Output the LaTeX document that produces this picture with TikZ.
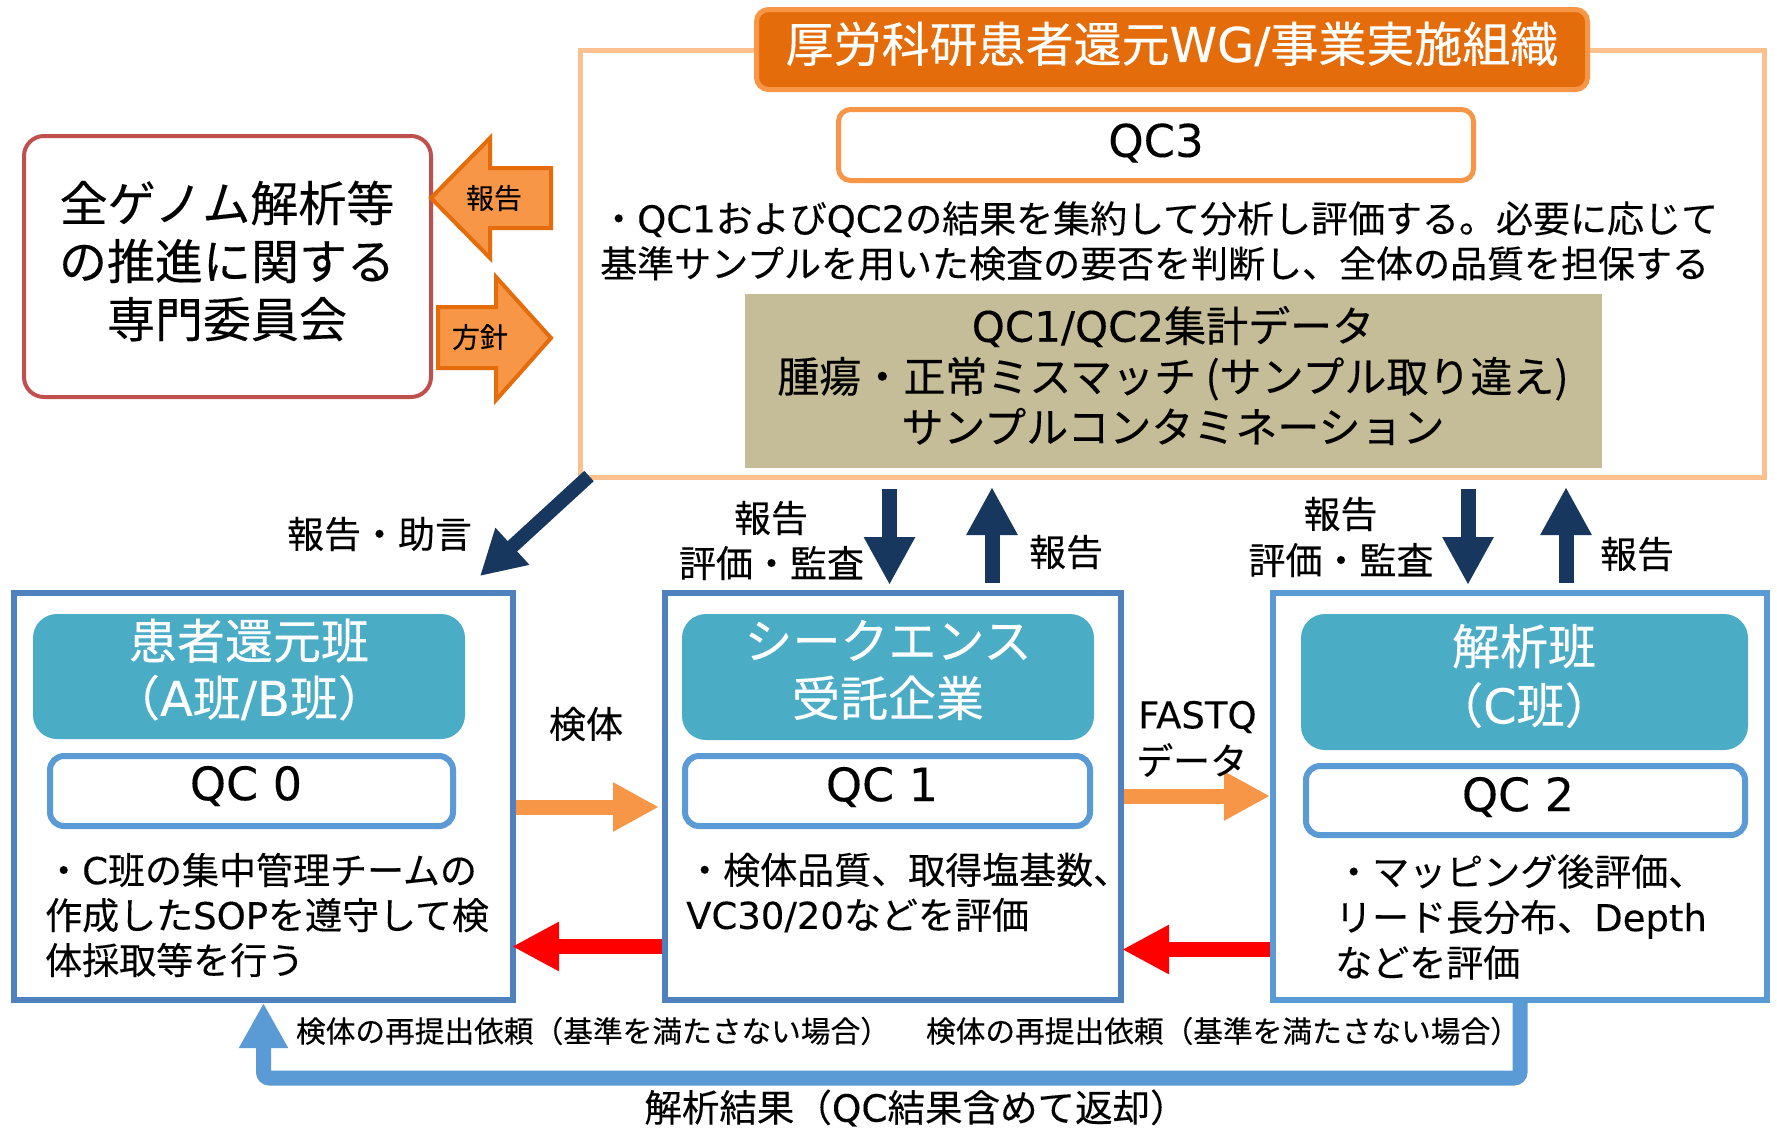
\documentclass[tikz,border=0pt]{standalone}
\usepackage{fontspec}
\setmainfont{Noto Sans CJK JP}[FakeBold=0.25]
\newfontfamily\lat{DejaVu Sans}[FakeBold=0.2]
\usetikzlibrary{arrows.meta}
\newcommand\myfs[2]{\fontsize{#1}{#2}\selectfont}
\definecolor{commred}{HTML}{C0504D}
\definecolor{peach}{HTML}{FAC090}
\definecolor{dorange}{HTML}{E46C0A}
\definecolor{morange}{HTML}{F79646}
\definecolor{tanc}{HTML}{C4BD97}
\definecolor{gblue}{HTML}{4F81BD}
\definecolor{lblue}{HTML}{5B9BD5}
\definecolor{tealbox}{HTML}{4BACC6}
\definecolor{navyc}{HTML}{17375E}
\definecolor{redc}{HTML}{FF0000}
\begin{document}
\begin{tikzpicture}[x=1pt,y=-1pt,
  commbox/.style={draw=commred, line width=4pt, rounded corners=20pt, fill=white},
  framebox/.style={draw=peach, line width=5pt},
  titlebox/.style={draw=morange, fill=dorange, line width=5pt, rounded corners=12pt},
  qcthree/.style={draw=morange, fill=white, line width=5pt, rounded corners=12pt},
  tanbox/.style={fill=tanc},
  group/.style={draw=gblue, line width=6pt, fill=white},
  groupl/.style={draw=lblue, line width=6pt, fill=white},
  teambox/.style={fill=tealbox, rounded corners=24pt},
  qcbox/.style={draw=lblue, fill=white, line width=6pt, rounded corners=14pt},
  txt/.style={inner sep=0pt, text=black},
  wtxt/.style={inner sep=0pt, text=white},
  blockarrow/.style={fill=morange, draw=dorange, line width=4pt, line join=miter},
  navyarrow/.style={draw=navyc, line width=15pt, -{Triangle[length=48pt,width=48pt]}},
  navydiag/.style={draw=navyc, line width=14pt, -{Triangle[length=44pt,width=47pt]}},
  orangearrow/.style={draw=morange, line width=15pt, -{Triangle[length=46pt,width=46pt]}},
  redarrow/.style={draw=redc, line width=15pt, -{Triangle[length=47pt,width=46pt]}},
  bluearrow/.style={draw=lblue, line width=15pt, rounded corners=6pt, -{Triangle[length=45pt,width=46pt]}}
]
\useasboundingbox (0,0) rectangle (1777,1128);
\fill[white] (0,0) rectangle (1777,1128);

% upper frame (WG)
\node[framebox, minimum width=1184pt, minimum height=427pt] (frame) at (1172.5,264) {};
\node[titlebox, minimum width=831pt, minimum height=80pt] (title) at (1172,49.5) {};
\node[wtxt, font=\myfs{48}{56}] (titletxt) at (1172,44) {厚労科研患者還元{\lat WG/}事業実施組織};
\node[qcthree, minimum width=635pt, minimum height=71pt] (qc3) at (1156,145) {};
\node[txt, font=\myfs{45}{50}] (qc3t) at (1156,143) {\lat QC3};
\node[txt, font=\myfs{37}{45}, align=left, anchor=west] (qc3txt) at (600,241)
  {・{\lat QC1}および{\lat QC2}の結果を集約して分析し評価する。必要に応じて\\基準サンプルを用いた検査の要否を判断し、全体の品質を担保する};
\node[tanbox, minimum width=857pt, minimum height=174pt] (tan) at (1173.5,381) {};
\node[txt, font=\myfs{42}{50.5}, align=center] (tantxt) at (1173,375.5)
  {{\lat QC1/QC2}集計データ\\腫瘍・正常ミスマッチ (サンプル取り違え)\\サンプルコンタミネーション};

% committee
\node[commbox, minimum width=407pt, minimum height=261pt] (comm) at (227.5,266.5) {};
\node[txt, font=\myfs{48}{58}, align=center] (commtxt) at (227,261) {全ゲノム解析等\\の推進に関する\\専門委員会};

% block arrows between committee and frame
\draw[blockarrow] (431,198) -- (490,138) -- (490,168) -- (551,168) -- (551,228) -- (490,228) -- (490,258) -- cycle;
\draw[blockarrow] (438,307) -- (496,307) -- (496,277) -- (551,338) -- (496,400) -- (496,368) -- (438,368) -- cycle;
\node[txt, font=\myfs{28}{34}] (rep0) at (494,198) {報告};
\node[txt, font=\myfs{28}{34}] (pol) at (480,337) {方針};

% groups
\node[group, minimum width=499pt, minimum height=407pt] (g0) at (263.5,796.5) {};
\node[group, minimum width=456pt, minimum height=407pt] (g1) at (893,796.5) {};
\node[groupl, minimum width=494pt, minimum height=407pt] (g2) at (1520,796.5) {};

\node[teambox, minimum width=432pt, minimum height=125pt] (t0) at (249,676.5) {};
\node[teambox, minimum width=412pt, minimum height=126pt] (t1) at (888,677) {};
\node[teambox, minimum width=447pt, minimum height=136pt] (t2) at (1524.5,682) {};
\node[wtxt, font=\myfs{48}{57}, align=center] (t0t) at (249,669.5) {患者還元班\\（{\lat A}班{\lat /B}班）};
\node[wtxt, font=\myfs{48}{57.5}, align=center] (t1t) at (888,670) {シークエンス\\受託企業};
\node[wtxt, font=\myfs{48}{59}, align=center] (t2t) at (1524,676) {解析班\\（{\lat C}班）};

\node[qcbox, minimum width=403pt, minimum height=70pt] (q0) at (251.5,791) {};
\node[qcbox, minimum width=405pt, minimum height=70pt] (q1) at (887.5,791) {};
\node[qcbox, minimum width=439pt, minimum height=69pt] (q2) at (1525.5,800.5) {};
\node[txt, font=\myfs{46}{50}] (q0t) at (246,786) {\lat QC 0};
\node[txt, font=\myfs{46}{50}] (q1t) at (882,787) {\lat QC 1};
\node[txt, font=\myfs{46}{50}] (q2t) at (1518,797) {\lat QC 2};

\node[txt, font=\myfs{37}{45}, align=left, anchor=west] (b0) at (45,915)
  {・{\lat C}班の集中管理チームの\\作成した{\lat SOP}を遵守して検\\体採取等を行う};
\node[txt, font=\myfs{37}{45}, align=left, anchor=west] (b1) at (686,892.5)
  {・検体品質、取得塩基数、\\{\lat VC30/20}などを評価};
\node[txt, font=\myfs{37}{45.5}, align=left, anchor=west] (b2) at (1335,917)
  {・マッピング後評価、\\リード長分布、{\lat Depth}\\などを評価};

% coordinates for connectors
\coordinate (xa1) at (889.5,0);
\coordinate (xb1) at (992,0);
\coordinate (xa2) at (1468,0);
\coordinate (xb2) at (1566,0);
\coordinate (yspec) at (0,807);
\coordinate (yfq) at (0,796);
\coordinate (yr1) at (0,946.5);
\coordinate (yr2) at (0,949.5);
\coordinate (ybot) at (0,1078);
\coordinate (dA) at (589,476);
\coordinate (dB) at (480,576);

% navy arrows
\draw[navydiag] (dA) -- (dB);
\draw[navyarrow, shorten <=9pt, shorten >=5pt] (frame.south -| xa1) -- (g1.north -| xa1);
\draw[navyarrow, shorten <=7pt, shorten >=7pt] (g1.north -| xb1) -- (frame.south -| xb1);
\draw[navyarrow, shorten <=9pt, shorten >=5pt] (frame.south -| xa2) -- (g2.north -| xa2);
\draw[navyarrow, shorten <=7pt, shorten >=7pt] (g2.north -| xb2) -- (frame.south -| xb2);

% horizontal arrows
\draw[orangearrow, shorten >=3pt] (g0.east |- yspec) -- (g1.west |- yspec);
\draw[orangearrow] (g1.east |- yfq) -- (g2.west |- yfq);
\draw[redarrow, shorten >=-4pt] (g1.west |- yr1) -- (g0.east |- yr1);
\draw[redarrow, shorten >=-2pt] (g2.west |- yr2) -- (g1.east |- yr2);

% return arrow
\draw[bluearrow] (g2.south) -- (g2.south |- ybot) -- (g0.south |- ybot) -- (g0.south);

% labels
\node[txt, font=\myfs{37}{45}] (ladv) at (379.5,534) {報告・助言};
\node[txt, font=\myfs{37}{45}] (l1a) at (771,518) {報告};
\node[txt, font=\myfs{37}{45}] (l1b) at (771.5,563) {評価・監査};
\node[txt, font=\myfs{37}{45}] (l1c) at (1066,552) {報告};
\node[txt, font=\myfs{37}{45}] (l2a) at (1340.5,514) {報告};
\node[txt, font=\myfs{37}{45}] (l2b) at (1341,560) {評価・監査};
\node[txt, font=\myfs{37}{45}] (l2c) at (1637,554) {報告};
\node[txt, font=\myfs{37}{45}] (lspec) at (586,724) {検体};
\node[txt, font=\myfs{37}{45}, anchor=west] (lfq) at (1138,717) {\lat FASTQ};
\node[txt, font=\myfs{37}{45}, anchor=west] (lfq2) at (1136,760) {データ};
\node[txt, font=\myfs{29.7}{35}] (ret1) at (593,1031) {検体の再提出依頼（基準を満たさない場合）};
\node[txt, font=\myfs{29.7}{35}] (ret2) at (1223,1031) {検体の再提出依頼（基準を満たさない場合）};
\node[txt, font=\myfs{37.5}{42}] (res) at (916,1108) {解析結果（{\lat QC}結果含めて返却）};
\end{tikzpicture}
\end{document}
